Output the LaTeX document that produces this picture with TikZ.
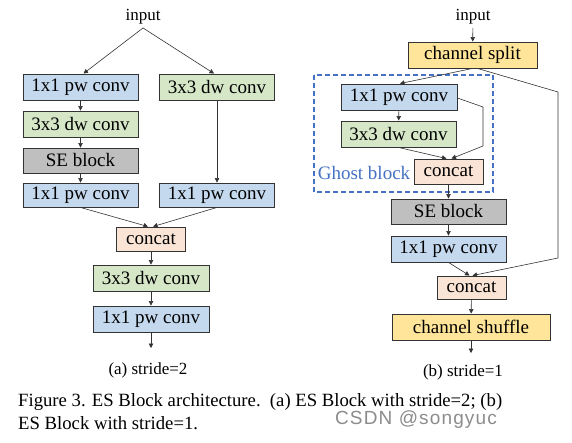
\documentclass[tikz,border=0pt]{standalone}
\usepackage{fontspec}
\setmainfont{Liberation Serif}
\newfontfamily\wmfont[LetterSpace=6]{Liberation Sans}
\usepackage{xcolor}
\usepackage{tikz}
\usetikzlibrary{arrows.meta}

\definecolor{pwblue}{RGB}{197,217,238}
\definecolor{dwgreen}{RGB}{214,231,200}
\definecolor{segray}{RGB}{191,191,191}
\definecolor{catpeach}{RGB}{250,228,214}
\definecolor{chyellow}{RGB}{255,229,153}
\definecolor{ghostblue}{RGB}{68,114,196}

\begin{document}
\begin{tikzpicture}[
      x=1pt,y=-1pt,
      box/.style={draw=black!80,line width=0.9pt,inner sep=0pt,minimum height=26pt,font=\fontsize{19}{21}\selectfont},
      pw/.style={box,fill=pwblue,minimum width=115pt},
      dw/.style={box,fill=dwgreen,minimum width=115pt},
      se/.style={box,fill=segray,minimum width=115pt},
      cat/.style={box,fill=catpeach,minimum width=69pt,minimum height=24pt},
      ch/.style={box,fill=chyellow},
      lab/.style={font=\fontsize{17}{19}\selectfont},
      arr/.style={-{Triangle[length=4.5pt,width=4.5pt]},black!80,line width=0.6pt}
]
\fill[white] (0,0) rectangle (572,443);
\useasboundingbox (0,0) rectangle (572,443);

% (a) stride=2
\node[lab] (inA) at (143,17) {input};
\node[pw] (pwA1) at (80.5,87) {1x1 pw conv};
\node[dw] (dwA0) at (217,87) {3x3 dw conv};
\node[dw] (dwA1) at (80.5,124) {3x3 dw conv};
\node[se,minimum height=25pt] (seA) at (80.5,160.5) {SE block};
\node[pw,minimum height=24pt] (pwA2) at (80.5,195) {1x1 pw conv};
\node[pw,minimum height=24pt] (pwA3) at (217,195) {1x1 pw conv};
\node[cat] (catA) at (151,239) {concat};
\node[dw,minimum width=116pt] (dwA2) at (151,278) {3x3 dw conv};
\node[pw,minimum width=116pt] (pwA4) at (151,319) {1x1 pw conv};
\coordinate (outA) at (151,348);
\node[lab] (labA) at (148,370) {(a) stride=2};

\draw[arr] (inA.south) -- ([xshift=3pt]pwA1.north);
\draw[arr] (inA.south) -- ([xshift=-3pt]dwA0.north);
\foreach \src/\dst in {pwA1/dwA1,dwA1/seA,seA/pwA2,dwA0/pwA3,catA/dwA2,dwA2/pwA4,pwA4/outA} {
      \draw[arr] (\src) -- (\dst);
}
\draw[arr] (pwA2.south) -- ([xshift=-3pt]catA.north);
\draw[arr] (pwA3.south) -- ([xshift=2pt]catA.north);

% (b) stride=1
\node[lab] (inB) at (473,17) {input};
\node[ch,minimum width=129pt] (splitB) at (472.5,55) {channel split};
\draw[ghostblue,line width=1.2pt,dash pattern=on 5pt off 3pt] (314,75) rectangle (493,192);
\node[pw,minimum width=116pt] (pwB1) at (399,97) {1x1 pw conv};
\node[dw] (dwB1) at (398.5,134) {3x3 dw conv};
\node[cat,minimum height=25pt] (catB1) at (448.5,171.5) {concat};
\node[text=ghostblue,font=\fontsize{19}{21}\selectfont] (ghostB) at (364,173) {Ghost block};
\node[se,minimum height=25pt] (seB) at (448.5,211.5) {SE block};
\node[pw] (pwB2) at (448.5,249) {1x1 pw conv};
\node[cat,minimum height=23pt] (catB2) at (471.5,287.5) {concat};
\node[ch,minimum width=158pt] (shufB) at (471,327) {channel shuffle};
\coordinate (outB) at (471,353);
\node[lab] (labB) at (463,372) {(b) stride=1};

\coordinate (skipB1) at (483,107);
\coordinate (skipB2) at (483,146);
\coordinate (skipB3) at (558,92);
\coordinate (skipB4) at (558,258);

\draw[arr] (inB) -- (splitB);
\draw[arr] (splitB.south) -- ([xshift=1pt]pwB1.north);
\draw[arr] (pwB1) -- (dwB1);
\draw[arr] ([yshift=-1pt]pwB1.east) -- (skipB1) -- (skipB2) -- ([xshift=3pt]catB1.north);
\draw[arr] (dwB1.south) -- ([xshift=-2pt]catB1.north);
\draw[arr] ([xshift=5pt]splitB.south) -- (skipB3) -- (skipB4) -- ([xshift=1pt]catB2.north);
\foreach \src/\dst in {catB1/seB,seB/pwB2,catB2/shufB,shufB/outB} {
      \draw[arr] (\src) -- (\dst);
}
\draw[arr] (pwB2.south) -- ([xshift=-2pt]catB2.north);

% caption
\node[anchor=base west,inner sep=0pt,font=\fontsize{18.7}{22}\selectfont] (capA) at (18,406)
      {\makebox[484pt][s]{Figure 3. ES Block architecture.\ \ (a) ES Block with stride=2; (b)}};
\node[anchor=base west,inner sep=0pt,font=\fontsize{18.7}{22}\selectfont] (capB) at (18,429) {ES Block with stride=1.};
\node[text=black!45,inner sep=0pt,font=\wmfont\fontsize{19}{21}\selectfont] (wm) at (416,420) {CSDN @songyuc};
\end{tikzpicture}
\end{document}
